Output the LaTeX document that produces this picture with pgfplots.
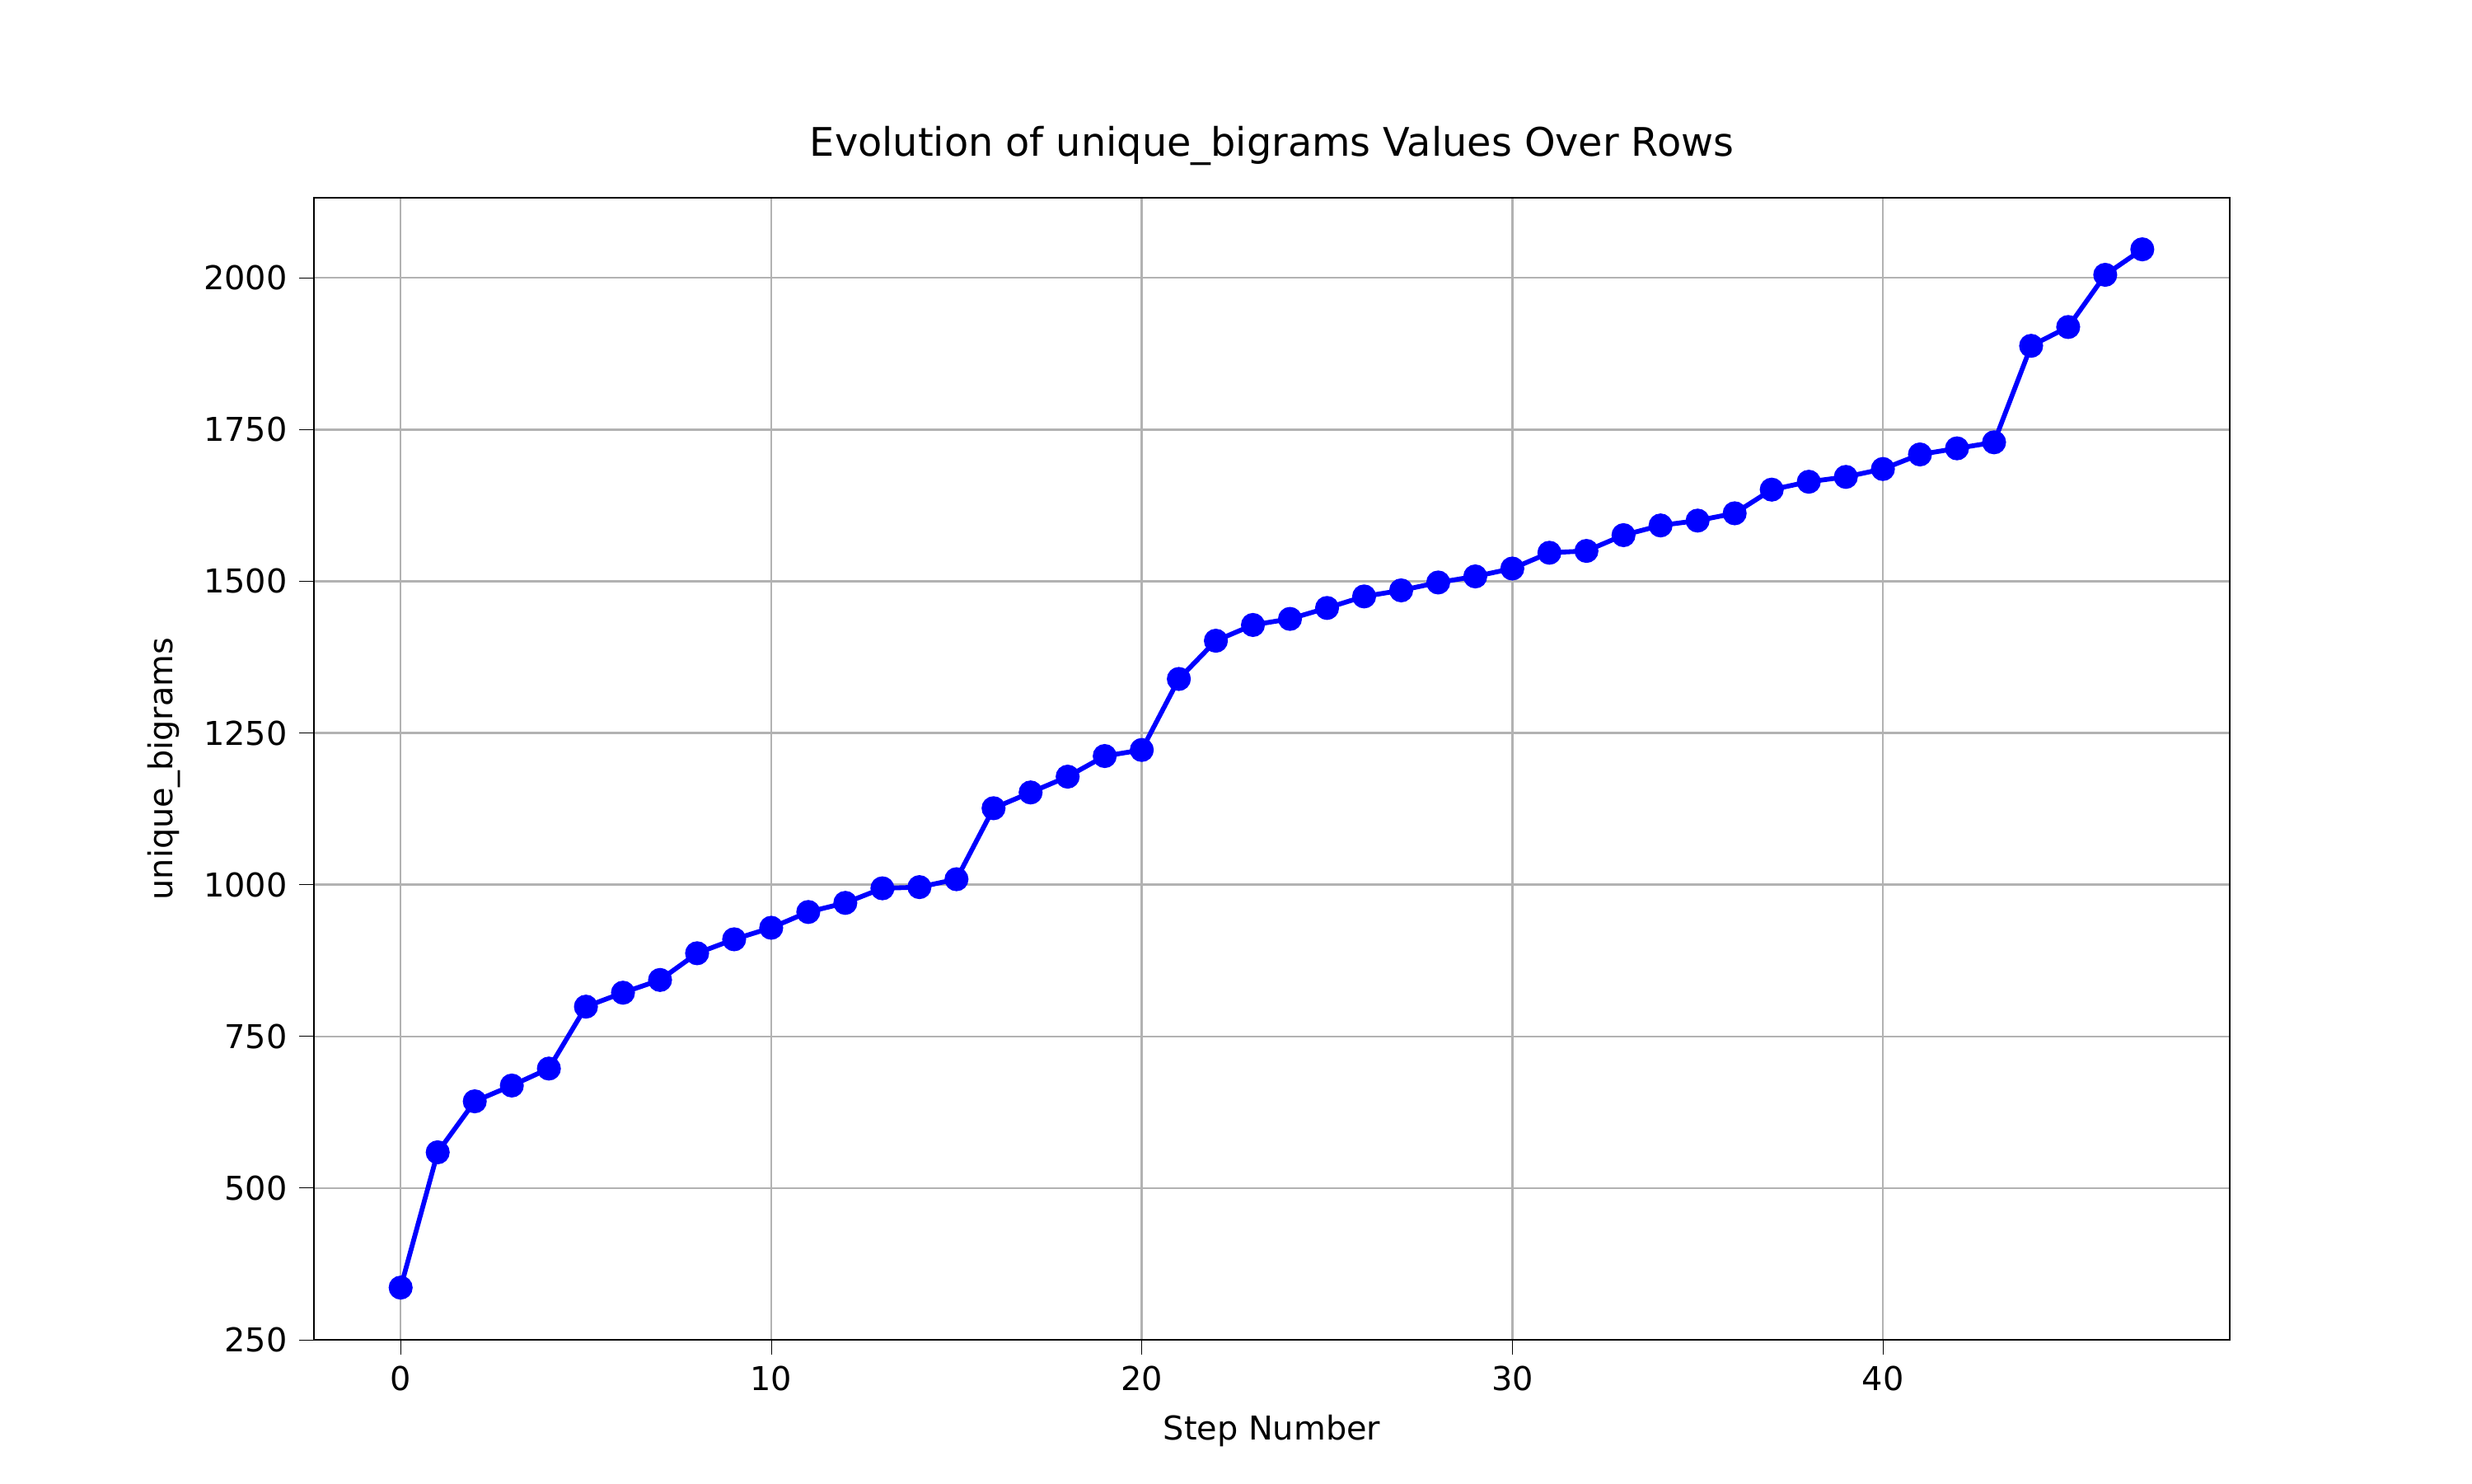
\documentclass[border=0pt]{standalone}
\usepackage{pgfplots}
\pgfplotsset{compat=1.18}
\usepackage{fontspec}
\setmainfont{DejaVu Sans}
\begin{document}
\begin{tikzpicture}
\begin{axis}[
  at={(0,0)}, anchor=south west, scale only axis,
  width=7.75in, height=4.62in,
  xmin=-2.34, xmax=49.36, ymin=250, ymax=2132,
  xtick={0,10,20,30,40}, ytick={250,500,750,1000,1250,1500,1750,2000},
  xtick pos=bottom, ytick pos=left,
  grid=major, grid style={gray!60, line width=0.6pt},
  tick align=outside, tick style={black},
  /pgf/number format/assume math mode=true,
  /pgf/number format/1000 sep={},
  ticklabel style={font=\fontsize{9.6}{11}\selectfont},
  xlabel={Step Number}, ylabel={unique\_bigrams},
  label style={font=\fontsize{9.6}{11}\selectfont},
  title={Evolution of unique\_bigrams Values Over Rows},
  title style={font=\fontsize{11.5}{13}\selectfont},
]
\addplot[blue, line width=1.4pt, mark=*, mark size=2.8pt, mark options={fill=blue}] coordinates {
(0,336)(1,559)(2,643)(3,669)(4,697)(5,799)(6,822)(7,843)(8,887)(9,910)
(10,929)(11,955)(12,970)(13,994)(14,996)(15,1009)(16,1126)(17,1152)(18,1178)(19,1212)
(20,1222)(21,1339)(22,1402)(23,1428)(24,1438)(25,1456)(26,1475)(27,1485)(28,1498)(29,1508)
(30,1521)(31,1547)(32,1550)(33,1576)(34,1592)(35,1600)(36,1612)(37,1651)(38,1664)(39,1672)
(40,1685)(41,1709)(42,1719)(43,1729)(44,1888)(45,1919)(46,2005)(47,2047)};
\end{axis}
\path[use as bounding box] (-1.27in,-0.58in) rectangle (8.73in,5.42in);
\end{tikzpicture}
\end{document}
